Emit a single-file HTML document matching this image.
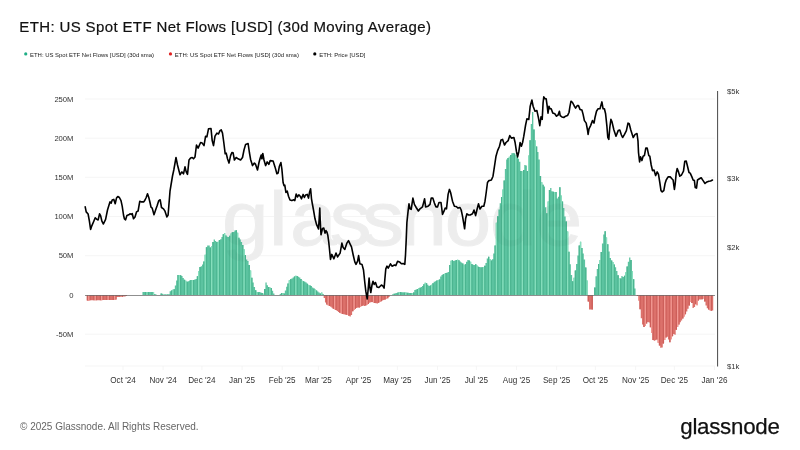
<!DOCTYPE html>
<html><head><meta charset="utf-8"><title>ETH: US Spot ETF Net Flows [USD] (30d Moving Average)</title>
<style>
html,body{margin:0;padding:0;background:#fff;}
body{width:800px;height:450px;position:relative;overflow:hidden;font-family:"Liberation Sans",sans-serif;}
.title{position:absolute;left:19.3px;top:17.1px;font-size:15px;line-height:20px;color:#111;white-space:nowrap;letter-spacing:0.37px;-webkit-text-stroke:0.2px #111;}
.copy{position:absolute;left:20px;top:420px;font-size:10px;line-height:14px;color:#666;white-space:nowrap;}
.logo{position:absolute;left:680.3px;top:413.6px;font-size:22.3px;line-height:26px;color:#111;white-space:nowrap;letter-spacing:-0.27px;-webkit-text-stroke:0.25px #111;}
</style></head><body>
<div class="title">ETH: US Spot ETF Net Flows [USD] (30d Moving Average)</div>
<svg width="800" height="450" viewBox="0 0 800 450" style="position:absolute;left:0;top:0">
<g stroke="#f2f2f2" stroke-width="0.8" fill="none">
<line x1="85" y1="99" x2="715" y2="99"/>
<line x1="85" y1="138.2" x2="715" y2="138.2"/>
<line x1="85" y1="177.3" x2="715" y2="177.3"/>
<line x1="85" y1="216.5" x2="715" y2="216.5"/>
<line x1="85" y1="255.7" x2="715" y2="255.7"/>
<line x1="85" y1="334.2" x2="715" y2="334.2"/>
<line x1="85" y1="366" x2="715" y2="366"/>
<line x1="123" y1="366" x2="123" y2="370"/>
<line x1="163.1" y1="366" x2="163.1" y2="370"/>
<line x1="201.9" y1="366" x2="201.9" y2="370"/>
<line x1="242.1" y1="366" x2="242.1" y2="370"/>
<line x1="282.2" y1="366" x2="282.2" y2="370"/>
<line x1="318.4" y1="366" x2="318.4" y2="370"/>
<line x1="358.6" y1="366" x2="358.6" y2="370"/>
<line x1="397.4" y1="366" x2="397.4" y2="370"/>
<line x1="437.5" y1="366" x2="437.5" y2="370"/>
<line x1="476.4" y1="366" x2="476.4" y2="370"/>
<line x1="516.5" y1="366" x2="516.5" y2="370"/>
<line x1="556.6" y1="366" x2="556.6" y2="370"/>
<line x1="595.4" y1="366" x2="595.4" y2="370"/>
<line x1="635.6" y1="366" x2="635.6" y2="370"/>
<line x1="674.4" y1="366" x2="674.4" y2="370"/>
<line x1="714.5" y1="366" x2="714.5" y2="370"/>
</g>
<text transform="scale(1.1,1)" x="201.8 244.5 263.6 299.7 329.3 364.1 404.3 445.4 487.0" y="245" font-family="Liberation Sans, sans-serif" font-size="76" fill="#f4f4f4" stroke="#f4f4f4" stroke-width="1">glassnode</text>
<path d="M142.45 295.0V292.0h1.294V295.0zM143.74 295.0V292.0h1.294V295.0zM145.04 295.0V292.0h1.294V295.0zM146.33 295.0V292.0h1.294V295.0zM147.63 295.0V292.0h1.294V295.0zM148.92 295.0V292.0h1.294V295.0zM150.22 295.0V292.0h1.294V295.0zM151.51 295.0V292.0h1.294V295.0zM152.80 295.0V292.0h1.294V295.0zM154.10 295.0V294.3h1.294V295.0zM155.39 295.0V294.6h1.294V295.0zM160.57 295.0V293.6h1.294V295.0zM161.86 295.0V293.8h1.294V295.0zM163.16 295.0V294.4h1.294V295.0zM164.45 295.0V294.6h1.294V295.0zM165.75 295.0V294.6h1.294V295.0zM167.04 295.0V294.6h1.294V295.0zM168.34 295.0V294.2h1.294V295.0zM169.63 295.0V291.3h1.294V295.0zM170.92 295.0V290.6h1.294V295.0zM172.22 295.0V289.8h1.294V295.0zM173.51 295.0V289.2h1.294V295.0zM174.81 295.0V285.5h1.294V295.0zM176.10 295.0V280.4h1.294V295.0zM177.40 295.0V275.0h1.294V295.0zM178.69 295.0V275.0h1.294V295.0zM179.98 295.0V275.3h1.294V295.0zM181.28 295.0V276.0h1.294V295.0zM182.57 295.0V278.1h1.294V295.0zM183.87 295.0V279.7h1.294V295.0zM185.16 295.0V280.7h1.294V295.0zM186.46 295.0V281.7h1.294V295.0zM187.75 295.0V281.3h1.294V295.0zM189.04 295.0V280.4h1.294V295.0zM190.34 295.0V280.1h1.294V295.0zM191.63 295.0V280.0h1.294V295.0zM192.93 295.0V280.0h1.294V295.0zM194.22 295.0V279.6h1.294V295.0zM195.52 295.0V279.0h1.294V295.0zM196.81 295.0V276.2h1.294V295.0zM198.10 295.0V271.2h1.294V295.0zM199.40 295.0V267.1h1.294V295.0zM200.69 295.0V266.3h1.294V295.0zM201.99 295.0V264.5h1.294V295.0zM203.28 295.0V261.6h1.294V295.0zM204.58 295.0V254.7h1.294V295.0zM205.87 295.0V247.3h1.294V295.0zM207.16 295.0V245.5h1.294V295.0zM208.46 295.0V245.5h1.294V295.0zM209.75 295.0V247.4h1.294V295.0zM211.05 295.0V246.3h1.294V295.0zM212.34 295.0V242.0h1.294V295.0zM213.64 295.0V239.6h1.294V295.0zM214.93 295.0V241.1h1.294V295.0zM216.22 295.0V242.0h1.294V295.0zM217.52 295.0V241.7h1.294V295.0zM218.81 295.0V240.0h1.294V295.0zM220.11 295.0V239.3h1.294V295.0zM221.40 295.0V236.9h1.294V295.0zM222.70 295.0V234.2h1.294V295.0zM223.99 295.0V233.2h1.294V295.0zM225.28 295.0V235.5h1.294V295.0zM226.58 295.0V236.8h1.294V295.0zM227.87 295.0V237.0h1.294V295.0zM229.17 295.0V235.7h1.294V295.0zM230.46 295.0V233.6h1.294V295.0zM231.76 295.0V232.3h1.294V295.0zM233.05 295.0V232.0h1.294V295.0zM234.34 295.0V230.6h1.294V295.0zM235.64 295.0V230.3h1.294V295.0zM236.93 295.0V232.8h1.294V295.0zM238.23 295.0V237.7h1.294V295.0zM239.52 295.0V239.5h1.294V295.0zM240.82 295.0V241.9h1.294V295.0zM242.11 295.0V244.9h1.294V295.0zM243.40 295.0V249.3h1.294V295.0zM244.70 295.0V254.9h1.294V295.0zM245.99 295.0V259.4h1.294V295.0zM247.29 295.0V260.9h1.294V295.0zM248.58 295.0V265.0h1.294V295.0zM249.88 295.0V270.5h1.294V295.0zM251.17 295.0V277.8h1.294V295.0zM252.46 295.0V282.6h1.294V295.0zM253.76 295.0V286.9h1.294V295.0zM255.05 295.0V290.3h1.294V295.0zM256.35 295.0V291.9h1.294V295.0zM257.64 295.0V292.3h1.294V295.0zM258.94 295.0V292.1h1.294V295.0zM260.23 295.0V292.4h1.294V295.0zM261.52 295.0V293.1h1.294V295.0zM262.82 295.0V293.8h1.294V295.0zM264.11 295.0V288.9h1.294V295.0zM265.41 295.0V282.5h1.294V295.0zM266.70 295.0V285.3h1.294V295.0zM268.00 295.0V287.0h1.294V295.0zM269.29 295.0V287.5h1.294V295.0zM270.58 295.0V288.1h1.294V295.0zM271.88 295.0V290.8h1.294V295.0zM273.17 295.0V293.4h1.294V295.0zM279.64 295.0V293.9h1.294V295.0zM280.94 295.0V293.0h1.294V295.0zM282.23 295.0V293.0h1.294V295.0zM283.53 295.0V293.5h1.294V295.0zM284.82 295.0V290.5h1.294V295.0zM286.12 295.0V286.7h1.294V295.0zM287.41 295.0V283.4h1.294V295.0zM288.71 295.0V280.3h1.294V295.0zM290.00 295.0V279.2h1.294V295.0zM291.29 295.0V278.4h1.294V295.0zM292.59 295.0V277.5h1.294V295.0zM293.88 295.0V276.6h1.294V295.0zM295.18 295.0V275.8h1.294V295.0zM296.47 295.0V276.0h1.294V295.0zM297.77 295.0V276.7h1.294V295.0zM299.06 295.0V277.5h1.294V295.0zM300.35 295.0V279.1h1.294V295.0zM301.65 295.0V280.8h1.294V295.0zM302.94 295.0V281.2h1.294V295.0zM304.24 295.0V281.8h1.294V295.0zM305.53 295.0V282.6h1.294V295.0zM306.83 295.0V283.7h1.294V295.0zM308.12 295.0V285.0h1.294V295.0zM309.41 295.0V285.6h1.294V295.0zM310.71 295.0V286.1h1.294V295.0zM312.00 295.0V287.4h1.294V295.0zM313.30 295.0V288.5h1.294V295.0zM314.59 295.0V289.4h1.294V295.0zM315.89 295.0V290.4h1.294V295.0zM317.18 295.0V291.5h1.294V295.0zM318.47 295.0V292.6h1.294V295.0zM319.77 295.0V293.4h1.294V295.0zM321.06 295.0V292.4h1.294V295.0zM322.36 295.0V294.3h1.294V295.0zM392.25 295.0V294.2h1.294V295.0zM393.54 295.0V293.7h1.294V295.0zM394.84 295.0V293.3h1.294V295.0zM396.13 295.0V292.9h1.294V295.0zM397.43 295.0V292.6h1.294V295.0zM398.72 295.0V292.2h1.294V295.0zM400.01 295.0V292.1h1.294V295.0zM401.31 295.0V292.2h1.294V295.0zM402.60 295.0V292.3h1.294V295.0zM403.90 295.0V292.5h1.294V295.0zM405.19 295.0V292.6h1.294V295.0zM406.49 295.0V292.7h1.294V295.0zM407.78 295.0V292.8h1.294V295.0zM409.07 295.0V293.0h1.294V295.0zM410.37 295.0V293.1h1.294V295.0zM411.66 295.0V293.2h1.294V295.0zM412.96 295.0V292.6h1.294V295.0zM414.25 295.0V289.9h1.294V295.0zM415.55 295.0V289.4h1.294V295.0zM416.84 295.0V288.9h1.294V295.0zM418.14 295.0V288.3h1.294V295.0zM419.43 295.0V287.7h1.294V295.0zM420.72 295.0V287.0h1.294V295.0zM422.02 295.0V285.9h1.294V295.0zM423.31 295.0V284.3h1.294V295.0zM424.61 295.0V282.8h1.294V295.0zM425.90 295.0V283.2h1.294V295.0zM427.20 295.0V284.8h1.294V295.0zM428.49 295.0V285.9h1.294V295.0zM429.78 295.0V285.5h1.294V295.0zM431.08 295.0V284.8h1.294V295.0zM432.37 295.0V283.2h1.294V295.0zM433.67 295.0V281.8h1.294V295.0zM434.96 295.0V281.2h1.294V295.0zM436.26 295.0V280.6h1.294V295.0zM437.55 295.0V280.3h1.294V295.0zM438.84 295.0V279.6h1.294V295.0zM440.14 295.0V276.5h1.294V295.0zM441.43 295.0V274.9h1.294V295.0zM442.73 295.0V274.3h1.294V295.0zM444.02 295.0V273.7h1.294V295.0zM445.32 295.0V273.1h1.294V295.0zM446.61 295.0V272.5h1.294V295.0zM447.90 295.0V272.1h1.294V295.0zM449.20 295.0V265.0h1.294V295.0zM450.49 295.0V260.7h1.294V295.0zM451.79 295.0V260.3h1.294V295.0zM453.08 295.0V261.1h1.294V295.0zM454.38 295.0V260.5h1.294V295.0zM455.67 295.0V260.0h1.294V295.0zM456.96 295.0V259.8h1.294V295.0zM458.26 295.0V260.3h1.294V295.0zM459.55 295.0V261.5h1.294V295.0zM460.85 295.0V262.6h1.294V295.0zM462.14 295.0V263.6h1.294V295.0zM463.44 295.0V265.1h1.294V295.0zM464.73 295.0V264.3h1.294V295.0zM466.02 295.0V261.8h1.294V295.0zM467.32 295.0V260.0h1.294V295.0zM468.61 295.0V260.4h1.294V295.0zM469.91 295.0V261.8h1.294V295.0zM471.20 295.0V264.1h1.294V295.0zM472.50 295.0V264.8h1.294V295.0zM473.79 295.0V265.0h1.294V295.0zM475.08 295.0V264.2h1.294V295.0zM476.38 295.0V265.4h1.294V295.0zM477.67 295.0V266.8h1.294V295.0zM478.97 295.0V267.1h1.294V295.0zM480.26 295.0V267.3h1.294V295.0zM481.56 295.0V267.3h1.294V295.0zM482.85 295.0V267.1h1.294V295.0zM484.14 295.0V265.8h1.294V295.0zM485.44 295.0V263.1h1.294V295.0zM486.73 295.0V258.5h1.294V295.0zM488.03 295.0V256.7h1.294V295.0zM489.32 295.0V258.9h1.294V295.0zM490.62 295.0V260.5h1.294V295.0zM491.91 295.0V259.2h1.294V295.0zM493.20 295.0V253.5h1.294V295.0zM494.50 295.0V245.4h1.294V295.0zM495.79 295.0V222.8h1.294V295.0zM497.09 295.0V216.2h1.294V295.0zM498.38 295.0V209.6h1.294V295.0zM499.68 295.0V203.2h1.294V295.0zM500.97 295.0V196.9h1.294V295.0zM502.26 295.0V189.6h1.294V295.0zM503.56 295.0V180.6h1.294V295.0zM504.85 295.0V169.0h1.294V295.0zM506.15 295.0V159.5h1.294V295.0zM507.44 295.0V158.1h1.294V295.0zM508.74 295.0V156.7h1.294V295.0zM510.03 295.0V155.1h1.294V295.0zM511.32 295.0V153.2h1.294V295.0zM512.62 295.0V152.9h1.294V295.0zM513.91 295.0V153.5h1.294V295.0zM515.21 295.0V155.0h1.294V295.0zM516.50 295.0V157.0h1.294V295.0zM517.80 295.0V158.7h1.294V295.0zM519.09 295.0V161.7h1.294V295.0zM520.38 295.0V170.9h1.294V295.0zM521.68 295.0V171.4h1.294V295.0zM522.97 295.0V170.1h1.294V295.0zM524.27 295.0V165.0h1.294V295.0zM525.56 295.0V165.5h1.294V295.0zM526.86 295.0V171.0h1.294V295.0zM528.15 295.0V155.4h1.294V295.0zM529.44 295.0V140.2h1.294V295.0zM530.74 295.0V124.1h1.294V295.0zM532.03 295.0V112.1h1.294V295.0zM533.33 295.0V129.4h1.294V295.0zM534.62 295.0V140.5h1.294V295.0zM535.92 295.0V146.5h1.294V295.0zM537.21 295.0V152.0h1.294V295.0zM538.50 295.0V159.4h1.294V295.0zM539.80 295.0V176.0h1.294V295.0zM541.09 295.0V182.3h1.294V295.0zM542.39 295.0V184.7h1.294V295.0zM543.68 295.0V186.5h1.294V295.0zM544.98 295.0V207.3h1.294V295.0zM546.27 295.0V213.2h1.294V295.0zM547.57 295.0V201.5h1.294V295.0zM548.86 295.0V190.1h1.294V295.0zM550.15 295.0V187.9h1.294V295.0zM551.45 295.0V191.3h1.294V295.0zM552.74 295.0V191.8h1.294V295.0zM554.04 295.0V192.0h1.294V295.0zM555.33 295.0V192.0h1.294V295.0zM556.63 295.0V198.6h1.294V295.0zM557.92 295.0V196.8h1.294V295.0zM559.21 295.0V187.2h1.294V295.0zM560.51 295.0V195.6h1.294V295.0zM561.80 295.0V201.6h1.294V295.0zM563.10 295.0V207.9h1.294V295.0zM564.39 295.0V216.4h1.294V295.0zM565.69 295.0V221.5h1.294V295.0zM566.98 295.0V231.6h1.294V295.0zM568.27 295.0V251.7h1.294V295.0zM569.57 295.0V264.3h1.294V295.0zM570.86 295.0V275.0h1.294V295.0zM572.16 295.0V281.3h1.294V295.0zM573.45 295.0V277.7h1.294V295.0zM574.75 295.0V270.5h1.294V295.0zM576.04 295.0V264.1h1.294V295.0zM577.33 295.0V255.5h1.294V295.0zM578.63 295.0V245.4h1.294V295.0zM579.92 295.0V241.8h1.294V295.0zM581.22 295.0V248.0h1.294V295.0zM582.51 295.0V253.5h1.294V295.0zM583.81 295.0V259.6h1.294V295.0zM585.10 295.0V267.5h1.294V295.0zM586.39 295.0V280.6h1.294V295.0zM594.16 295.0V287.4h1.294V295.0zM595.45 295.0V276.3h1.294V295.0zM596.75 295.0V269.1h1.294V295.0zM598.04 295.0V263.9h1.294V295.0zM599.34 295.0V260.0h1.294V295.0zM600.63 295.0V252.0h1.294V295.0zM601.93 295.0V243.4h1.294V295.0zM603.22 295.0V234.6h1.294V295.0zM604.51 295.0V231.3h1.294V295.0zM605.81 295.0V237.4h1.294V295.0zM607.10 295.0V244.3h1.294V295.0zM608.40 295.0V251.5h1.294V295.0zM609.69 295.0V257.9h1.294V295.0zM610.99 295.0V260.5h1.294V295.0zM612.28 295.0V261.9h1.294V295.0zM613.57 295.0V264.4h1.294V295.0zM614.87 295.0V267.3h1.294V295.0zM616.16 295.0V270.9h1.294V295.0zM617.46 295.0V275.3h1.294V295.0zM618.75 295.0V278.5h1.294V295.0zM620.05 295.0V278.6h1.294V295.0zM621.34 295.0V276.0h1.294V295.0zM622.63 295.0V277.1h1.294V295.0zM623.93 295.0V275.8h1.294V295.0zM625.22 295.0V272.3h1.294V295.0zM626.52 295.0V266.5h1.294V295.0zM627.81 295.0V261.7h1.294V295.0zM629.11 295.0V257.4h1.294V295.0zM630.40 295.0V260.1h1.294V295.0zM631.69 295.0V271.1h1.294V295.0zM632.99 295.0V279.3h1.294V295.0zM634.28 295.0V288.4h1.294V295.0z" fill="#5cc3a0"/>
<path d="M145.04 295.0V292.0h1.294V295.0zM147.63 295.0V292.0h1.294V295.0zM151.51 295.0V292.0h1.294V295.0zM154.10 295.0V294.3h1.294V295.0zM160.57 295.0V293.6h1.294V295.0zM164.45 295.0V294.6h1.294V295.0zM167.04 295.0V294.6h1.294V295.0zM170.92 295.0V290.6h1.294V295.0zM173.51 295.0V289.2h1.294V295.0zM177.40 295.0V275.0h1.294V295.0zM179.98 295.0V275.3h1.294V295.0zM183.87 295.0V279.7h1.294V295.0zM186.46 295.0V281.7h1.294V295.0zM190.34 295.0V280.1h1.294V295.0zM192.93 295.0V280.0h1.294V295.0zM196.81 295.0V276.2h1.294V295.0zM199.40 295.0V267.1h1.294V295.0zM203.28 295.0V261.6h1.294V295.0zM205.87 295.0V247.3h1.294V295.0zM209.75 295.0V247.4h1.294V295.0zM212.34 295.0V242.0h1.294V295.0zM216.22 295.0V242.0h1.294V295.0zM218.81 295.0V240.0h1.294V295.0zM222.70 295.0V234.2h1.294V295.0zM225.28 295.0V235.5h1.294V295.0zM229.17 295.0V235.7h1.294V295.0zM231.76 295.0V232.3h1.294V295.0zM235.64 295.0V230.3h1.294V295.0zM238.23 295.0V237.7h1.294V295.0zM242.11 295.0V244.9h1.294V295.0zM244.70 295.0V254.9h1.294V295.0zM248.58 295.0V265.0h1.294V295.0zM251.17 295.0V277.8h1.294V295.0zM255.05 295.0V290.3h1.294V295.0zM257.64 295.0V292.3h1.294V295.0zM261.52 295.0V293.1h1.294V295.0zM264.11 295.0V288.9h1.294V295.0zM268.00 295.0V287.0h1.294V295.0zM270.58 295.0V288.1h1.294V295.0zM280.94 295.0V293.0h1.294V295.0zM283.53 295.0V293.5h1.294V295.0zM287.41 295.0V283.4h1.294V295.0zM290.00 295.0V279.2h1.294V295.0zM293.88 295.0V276.6h1.294V295.0zM296.47 295.0V276.0h1.294V295.0zM300.35 295.0V279.1h1.294V295.0zM302.94 295.0V281.2h1.294V295.0zM306.83 295.0V283.7h1.294V295.0zM309.41 295.0V285.6h1.294V295.0zM313.30 295.0V288.5h1.294V295.0zM315.89 295.0V290.4h1.294V295.0zM319.77 295.0V293.4h1.294V295.0zM322.36 295.0V294.3h1.294V295.0zM393.54 295.0V293.7h1.294V295.0zM397.43 295.0V292.6h1.294V295.0zM400.01 295.0V292.1h1.294V295.0zM403.90 295.0V292.5h1.294V295.0zM406.49 295.0V292.7h1.294V295.0zM410.37 295.0V293.1h1.294V295.0zM412.96 295.0V292.6h1.294V295.0zM416.84 295.0V288.9h1.294V295.0zM419.43 295.0V287.7h1.294V295.0zM423.31 295.0V284.3h1.294V295.0zM425.90 295.0V283.2h1.294V295.0zM429.78 295.0V285.5h1.294V295.0zM432.37 295.0V283.2h1.294V295.0zM436.26 295.0V280.6h1.294V295.0zM438.84 295.0V279.6h1.294V295.0zM442.73 295.0V274.3h1.294V295.0zM445.32 295.0V273.1h1.294V295.0zM449.20 295.0V265.0h1.294V295.0zM451.79 295.0V260.3h1.294V295.0zM455.67 295.0V260.0h1.294V295.0zM458.26 295.0V260.3h1.294V295.0zM462.14 295.0V263.6h1.294V295.0zM464.73 295.0V264.3h1.294V295.0zM468.61 295.0V260.4h1.294V295.0zM471.20 295.0V264.1h1.294V295.0zM475.08 295.0V264.2h1.294V295.0zM477.67 295.0V266.8h1.294V295.0zM481.56 295.0V267.3h1.294V295.0zM484.14 295.0V265.8h1.294V295.0zM488.03 295.0V256.7h1.294V295.0zM490.62 295.0V260.5h1.294V295.0zM494.50 295.0V245.4h1.294V295.0zM497.09 295.0V216.2h1.294V295.0zM500.97 295.0V196.9h1.294V295.0zM503.56 295.0V180.6h1.294V295.0zM507.44 295.0V158.1h1.294V295.0zM510.03 295.0V155.1h1.294V295.0zM513.91 295.0V153.5h1.294V295.0zM516.50 295.0V157.0h1.294V295.0zM520.38 295.0V170.9h1.294V295.0zM522.97 295.0V170.1h1.294V295.0zM526.86 295.0V171.0h1.294V295.0zM529.44 295.0V140.2h1.294V295.0zM533.33 295.0V129.4h1.294V295.0zM535.92 295.0V146.5h1.294V295.0zM539.80 295.0V176.0h1.294V295.0zM542.39 295.0V184.7h1.294V295.0zM546.27 295.0V213.2h1.294V295.0zM548.86 295.0V190.1h1.294V295.0zM552.74 295.0V191.8h1.294V295.0zM555.33 295.0V192.0h1.294V295.0zM559.21 295.0V187.2h1.294V295.0zM561.80 295.0V201.6h1.294V295.0zM565.69 295.0V221.5h1.294V295.0zM568.27 295.0V251.7h1.294V295.0zM572.16 295.0V281.3h1.294V295.0zM574.75 295.0V270.5h1.294V295.0zM578.63 295.0V245.4h1.294V295.0zM581.22 295.0V248.0h1.294V295.0zM585.10 295.0V267.5h1.294V295.0zM594.16 295.0V287.4h1.294V295.0zM598.04 295.0V263.9h1.294V295.0zM600.63 295.0V252.0h1.294V295.0zM604.51 295.0V231.3h1.294V295.0zM607.10 295.0V244.3h1.294V295.0zM610.99 295.0V260.5h1.294V295.0zM613.57 295.0V264.4h1.294V295.0zM617.46 295.0V275.3h1.294V295.0zM620.05 295.0V278.6h1.294V295.0zM623.93 295.0V275.8h1.294V295.0zM626.52 295.0V266.5h1.294V295.0zM630.40 295.0V260.1h1.294V295.0zM632.99 295.0V279.3h1.294V295.0z" fill="#4bb590"/>
<path d="M146.33 295.0V292.0h1.294V295.0zM152.80 295.0V292.0h1.294V295.0zM165.75 295.0V294.6h1.294V295.0zM172.22 295.0V289.8h1.294V295.0zM178.69 295.0V275.0h1.294V295.0zM185.16 295.0V280.7h1.294V295.0zM191.63 295.0V280.0h1.294V295.0zM198.10 295.0V271.2h1.294V295.0zM204.58 295.0V254.7h1.294V295.0zM211.05 295.0V246.3h1.294V295.0zM217.52 295.0V241.7h1.294V295.0zM223.99 295.0V233.2h1.294V295.0zM230.46 295.0V233.6h1.294V295.0zM236.93 295.0V232.8h1.294V295.0zM243.40 295.0V249.3h1.294V295.0zM249.88 295.0V270.5h1.294V295.0zM256.35 295.0V291.9h1.294V295.0zM262.82 295.0V293.8h1.294V295.0zM269.29 295.0V287.5h1.294V295.0zM282.23 295.0V293.0h1.294V295.0zM288.71 295.0V280.3h1.294V295.0zM295.18 295.0V275.8h1.294V295.0zM301.65 295.0V280.8h1.294V295.0zM308.12 295.0V285.0h1.294V295.0zM314.59 295.0V289.4h1.294V295.0zM321.06 295.0V292.4h1.294V295.0zM392.25 295.0V294.2h1.294V295.0zM398.72 295.0V292.2h1.294V295.0zM405.19 295.0V292.6h1.294V295.0zM411.66 295.0V293.2h1.294V295.0zM418.14 295.0V288.3h1.294V295.0zM424.61 295.0V282.8h1.294V295.0zM431.08 295.0V284.8h1.294V295.0zM437.55 295.0V280.3h1.294V295.0zM444.02 295.0V273.7h1.294V295.0zM450.49 295.0V260.7h1.294V295.0zM456.96 295.0V259.8h1.294V295.0zM463.44 295.0V265.1h1.294V295.0zM469.91 295.0V261.8h1.294V295.0zM476.38 295.0V265.4h1.294V295.0zM482.85 295.0V267.1h1.294V295.0zM489.32 295.0V258.9h1.294V295.0zM495.79 295.0V222.8h1.294V295.0zM502.26 295.0V189.6h1.294V295.0zM508.74 295.0V156.7h1.294V295.0zM515.21 295.0V155.0h1.294V295.0zM521.68 295.0V171.4h1.294V295.0zM528.15 295.0V155.4h1.294V295.0zM534.62 295.0V140.5h1.294V295.0zM541.09 295.0V182.3h1.294V295.0zM547.57 295.0V201.5h1.294V295.0zM554.04 295.0V192.0h1.294V295.0zM560.51 295.0V195.6h1.294V295.0zM566.98 295.0V231.6h1.294V295.0zM573.45 295.0V277.7h1.294V295.0zM579.92 295.0V241.8h1.294V295.0zM586.39 295.0V280.6h1.294V295.0zM599.34 295.0V260.0h1.294V295.0zM605.81 295.0V237.4h1.294V295.0zM612.28 295.0V261.9h1.294V295.0zM618.75 295.0V278.5h1.294V295.0zM625.22 295.0V272.3h1.294V295.0zM631.69 295.0V271.1h1.294V295.0z" fill="#88e0be"/>
<path d="M86.79 295.0V300.4h1.294V295.0zM88.09 295.0V300.7h1.294V295.0zM89.38 295.0V300.3h1.294V295.0zM90.68 295.0V300.3h1.294V295.0zM91.97 295.0V300.3h1.294V295.0zM93.27 295.0V300.3h1.294V295.0zM94.56 295.0V300.2h1.294V295.0zM95.85 295.0V300.2h1.294V295.0zM97.15 295.0V300.2h1.294V295.0zM98.44 295.0V300.2h1.294V295.0zM99.74 295.0V300.2h1.294V295.0zM101.03 295.0V300.2h1.294V295.0zM102.33 295.0V300.1h1.294V295.0zM103.62 295.0V300.1h1.294V295.0zM104.91 295.0V300.1h1.294V295.0zM106.21 295.0V300.1h1.294V295.0zM107.50 295.0V300.1h1.294V295.0zM108.80 295.0V300.1h1.294V295.0zM110.09 295.0V300.1h1.294V295.0zM111.39 295.0V300.0h1.294V295.0zM112.68 295.0V300.0h1.294V295.0zM113.97 295.0V300.0h1.294V295.0zM115.27 295.0V299.5h1.294V295.0zM116.56 295.0V297.0h1.294V295.0zM117.86 295.0V296.9h1.294V295.0zM119.15 295.0V296.8h1.294V295.0zM120.45 295.0V296.8h1.294V295.0zM121.74 295.0V296.7h1.294V295.0zM123.03 295.0V296.6h1.294V295.0zM124.33 295.0V296.5h1.294V295.0zM125.62 295.0V296.1h1.294V295.0zM323.65 295.0V298.0h1.294V295.0zM324.95 295.0V302.4h1.294V295.0zM326.24 295.0V304.6h1.294V295.0zM327.53 295.0V305.3h1.294V295.0zM328.83 295.0V306.0h1.294V295.0zM330.12 295.0V306.8h1.294V295.0zM331.42 295.0V307.8h1.294V295.0zM332.71 295.0V308.7h1.294V295.0zM334.01 295.0V309.3h1.294V295.0zM335.30 295.0V310.0h1.294V295.0zM336.59 295.0V310.9h1.294V295.0zM337.89 295.0V311.9h1.294V295.0zM339.18 295.0V312.7h1.294V295.0zM340.48 295.0V313.3h1.294V295.0zM341.77 295.0V313.9h1.294V295.0zM343.07 295.0V314.2h1.294V295.0zM344.36 295.0V314.5h1.294V295.0zM345.65 295.0V314.8h1.294V295.0zM346.95 295.0V315.1h1.294V295.0zM348.24 295.0V315.7h1.294V295.0zM349.54 295.0V316.5h1.294V295.0zM350.83 295.0V315.0h1.294V295.0zM352.13 295.0V311.2h1.294V295.0zM353.42 295.0V309.9h1.294V295.0zM354.71 295.0V308.8h1.294V295.0zM356.01 295.0V308.0h1.294V295.0zM357.30 295.0V307.5h1.294V295.0zM358.60 295.0V307.5h1.294V295.0zM359.89 295.0V307.1h1.294V295.0zM361.19 295.0V306.0h1.294V295.0zM362.48 295.0V305.6h1.294V295.0zM363.77 295.0V305.9h1.294V295.0zM365.07 295.0V305.6h1.294V295.0zM366.36 295.0V304.8h1.294V295.0zM367.66 295.0V303.9h1.294V295.0zM368.95 295.0V302.8h1.294V295.0zM370.25 295.0V302.3h1.294V295.0zM371.54 295.0V302.1h1.294V295.0zM372.83 295.0V302.4h1.294V295.0zM374.13 295.0V302.9h1.294V295.0zM375.42 295.0V303.2h1.294V295.0zM376.72 295.0V303.5h1.294V295.0zM378.01 295.0V302.8h1.294V295.0zM379.31 295.0V302.0h1.294V295.0zM380.60 295.0V301.3h1.294V295.0zM381.89 295.0V300.5h1.294V295.0zM383.19 295.0V300.0h1.294V295.0zM384.48 295.0V299.4h1.294V295.0zM385.78 295.0V298.9h1.294V295.0zM387.07 295.0V298.3h1.294V295.0zM388.37 295.0V297.0h1.294V295.0zM587.69 295.0V301.5h1.294V295.0zM588.98 295.0V309.5h1.294V295.0zM590.28 295.0V309.5h1.294V295.0zM591.57 295.0V309.5h1.294V295.0zM636.87 295.0V296.1h1.294V295.0zM638.17 295.0V300.4h1.294V295.0zM639.46 295.0V309.3h1.294V295.0zM640.75 295.0V318.2h1.294V295.0zM642.05 295.0V324.5h1.294V295.0zM643.34 295.0V327.0h1.294V295.0zM644.64 295.0V325.9h1.294V295.0zM645.93 295.0V323.6h1.294V295.0zM647.23 295.0V322.1h1.294V295.0zM648.52 295.0V322.5h1.294V295.0zM649.81 295.0V327.2h1.294V295.0zM651.11 295.0V332.9h1.294V295.0zM652.40 295.0V340.0h1.294V295.0zM653.70 295.0V340.7h1.294V295.0zM654.99 295.0V340.3h1.294V295.0zM656.29 295.0V339.5h1.294V295.0zM657.58 295.0V342.7h1.294V295.0zM658.87 295.0V345.5h1.294V295.0zM660.17 295.0V347.8h1.294V295.0zM661.46 295.0V347.6h1.294V295.0zM662.76 295.0V343.6h1.294V295.0zM664.05 295.0V339.9h1.294V295.0zM665.35 295.0V337.5h1.294V295.0zM666.64 295.0V336.7h1.294V295.0zM667.94 295.0V339.6h1.294V295.0zM669.23 295.0V342.3h1.294V295.0zM670.52 295.0V339.2h1.294V295.0zM671.82 295.0V336.2h1.294V295.0zM673.11 295.0V334.0h1.294V295.0zM674.41 295.0V334.8h1.294V295.0zM675.70 295.0V329.8h1.294V295.0zM677.00 295.0V326.8h1.294V295.0zM678.29 295.0V324.4h1.294V295.0zM679.58 295.0V322.2h1.294V295.0zM680.88 295.0V320.4h1.294V295.0zM682.17 295.0V318.5h1.294V295.0zM683.47 295.0V316.4h1.294V295.0zM684.76 295.0V314.2h1.294V295.0zM686.06 295.0V311.6h1.294V295.0zM687.35 295.0V308.8h1.294V295.0zM688.64 295.0V305.5h1.294V295.0zM689.94 295.0V301.9h1.294V295.0zM691.23 295.0V302.9h1.294V295.0zM692.53 295.0V307.9h1.294V295.0zM693.82 295.0V307.0h1.294V295.0zM695.12 295.0V304.3h1.294V295.0zM696.41 295.0V305.2h1.294V295.0zM697.70 295.0V300.6h1.294V295.0zM699.00 295.0V299.5h1.294V295.0zM700.29 295.0V299.5h1.294V295.0zM701.59 295.0V299.3h1.294V295.0zM702.88 295.0V298.6h1.294V295.0zM704.18 295.0V301.6h1.294V295.0zM705.47 295.0V305.6h1.294V295.0zM706.76 295.0V308.2h1.294V295.0zM708.06 295.0V309.5h1.294V295.0zM709.35 295.0V310.3h1.294V295.0zM710.65 295.0V310.7h1.294V295.0zM711.94 295.0V310.4h1.294V295.0z" fill="#dc716b"/>
<path d="M86.79 295.0V300.4h1.294V295.0zM89.38 295.0V300.3h1.294V295.0zM93.27 295.0V300.3h1.294V295.0zM95.85 295.0V300.2h1.294V295.0zM99.74 295.0V300.2h1.294V295.0zM102.33 295.0V300.1h1.294V295.0zM106.21 295.0V300.1h1.294V295.0zM108.80 295.0V300.1h1.294V295.0zM112.68 295.0V300.0h1.294V295.0zM115.27 295.0V299.5h1.294V295.0zM119.15 295.0V296.8h1.294V295.0zM121.74 295.0V296.7h1.294V295.0zM125.62 295.0V296.1h1.294V295.0zM326.24 295.0V304.6h1.294V295.0zM328.83 295.0V306.0h1.294V295.0zM332.71 295.0V308.7h1.294V295.0zM335.30 295.0V310.0h1.294V295.0zM339.18 295.0V312.7h1.294V295.0zM341.77 295.0V313.9h1.294V295.0zM345.65 295.0V314.8h1.294V295.0zM348.24 295.0V315.7h1.294V295.0zM352.13 295.0V311.2h1.294V295.0zM354.71 295.0V308.8h1.294V295.0zM358.60 295.0V307.5h1.294V295.0zM361.19 295.0V306.0h1.294V295.0zM365.07 295.0V305.6h1.294V295.0zM367.66 295.0V303.9h1.294V295.0zM371.54 295.0V302.1h1.294V295.0zM374.13 295.0V302.9h1.294V295.0zM378.01 295.0V302.8h1.294V295.0zM380.60 295.0V301.3h1.294V295.0zM384.48 295.0V299.4h1.294V295.0zM387.07 295.0V298.3h1.294V295.0zM587.69 295.0V301.5h1.294V295.0zM591.57 295.0V309.5h1.294V295.0zM636.87 295.0V296.1h1.294V295.0zM639.46 295.0V309.3h1.294V295.0zM643.34 295.0V327.0h1.294V295.0zM645.93 295.0V323.6h1.294V295.0zM649.81 295.0V327.2h1.294V295.0zM652.40 295.0V340.0h1.294V295.0zM656.29 295.0V339.5h1.294V295.0zM658.87 295.0V345.5h1.294V295.0zM662.76 295.0V343.6h1.294V295.0zM665.35 295.0V337.5h1.294V295.0zM669.23 295.0V342.3h1.294V295.0zM671.82 295.0V336.2h1.294V295.0zM675.70 295.0V329.8h1.294V295.0zM678.29 295.0V324.4h1.294V295.0zM682.17 295.0V318.5h1.294V295.0zM684.76 295.0V314.2h1.294V295.0zM688.64 295.0V305.5h1.294V295.0zM691.23 295.0V302.9h1.294V295.0zM695.12 295.0V304.3h1.294V295.0zM697.70 295.0V300.6h1.294V295.0zM701.59 295.0V299.3h1.294V295.0zM704.18 295.0V301.6h1.294V295.0zM708.06 295.0V309.5h1.294V295.0zM710.65 295.0V310.7h1.294V295.0z" fill="#cd5f5a"/>
<path d="M88.09 295.0V300.7h1.294V295.0zM94.56 295.0V300.2h1.294V295.0zM101.03 295.0V300.2h1.294V295.0zM107.50 295.0V300.1h1.294V295.0zM113.97 295.0V300.0h1.294V295.0zM120.45 295.0V296.8h1.294V295.0zM327.53 295.0V305.3h1.294V295.0zM334.01 295.0V309.3h1.294V295.0zM340.48 295.0V313.3h1.294V295.0zM346.95 295.0V315.1h1.294V295.0zM353.42 295.0V309.9h1.294V295.0zM359.89 295.0V307.1h1.294V295.0zM366.36 295.0V304.8h1.294V295.0zM372.83 295.0V302.4h1.294V295.0zM379.31 295.0V302.0h1.294V295.0zM385.78 295.0V298.9h1.294V295.0zM638.17 295.0V300.4h1.294V295.0zM644.64 295.0V325.9h1.294V295.0zM651.11 295.0V332.9h1.294V295.0zM657.58 295.0V342.7h1.294V295.0zM664.05 295.0V339.9h1.294V295.0zM670.52 295.0V339.2h1.294V295.0zM677.00 295.0V326.8h1.294V295.0zM683.47 295.0V316.4h1.294V295.0zM689.94 295.0V301.9h1.294V295.0zM696.41 295.0V305.2h1.294V295.0zM702.88 295.0V298.6h1.294V295.0zM709.35 295.0V310.3h1.294V295.0z" fill="#f39a94"/>
<text transform="scale(1.1,1)" x="201.8 244.5 263.6 299.7 329.3 364.1 404.3 445.4 487.0" y="245" font-family="Liberation Sans, sans-serif" font-size="76" fill="#000" stroke="#000" stroke-width="1" opacity="0.025">glassnode</text>
<line x1="85" y1="295.5" x2="715" y2="295.5" stroke="#6a6a6a" stroke-width="0.75"/>
<polyline points="85.2,206.9 86.2,211.9 88.1,214.0 89.4,221.2 90.6,229.4 91.9,225.6 93.8,221.2 95.2,217.8 96.9,219.4 98.1,220.0 99.6,213.8 100.6,215.6 101.9,221.2 103.4,224.0 105.6,219.4 107.5,210.0 109.4,203.8 110.0,201.9 111.2,203.1 112.2,200.0 113.8,199.4 115.2,203.8 116.5,198.1 117.8,196.5 119.4,197.5 121.0,200.6 122.2,206.2 123.5,215.0 124.4,218.8 125.6,219.8 126.9,215.6 128.8,214.8 130.0,213.8 131.2,214.4 132.2,213.5 133.5,218.8 135.0,216.9 136.5,211.9 138.1,211.0 139.8,201.2 141.2,201.9 143.8,201.9 145.0,200.0 146.2,197.5 147.5,193.8 148.8,197.5 150.0,202.5 151.0,207.2 152.2,208.1 154.0,214.8 155.6,210.0 157.2,205.6 158.8,200.6 160.2,199.8 161.5,207.5 163.5,208.8 165.0,211.2 166.9,216.9 168.1,215.0 169.0,203.8 170.0,191.2 171.0,185.0 172.5,176.0 173.8,170.0 176.0,157.5 177.5,165.0 180.0,174.8 181.9,171.9 183.5,173.8 185.0,166.9 186.2,171.9 187.5,174.4 189.0,160.0 190.6,158.1 192.2,157.5 193.5,158.8 195.0,156.9 196.5,145.0 198.1,148.1 200.6,142.5 202.2,143.1 204.0,145.6 205.6,136.2 206.9,136.9 208.5,128.8 211.0,128.5 212.2,140.6 213.5,145.6 215.0,136.2 216.9,133.1 218.5,134.0 220.0,130.6 221.2,129.8 222.5,133.1 223.8,142.5 225.2,153.8 226.2,153.1 227.5,158.8 229.0,163.1 230.6,155.6 231.9,152.5 233.1,152.8 234.4,160.0 236.2,157.5 238.1,158.8 240.6,160.0 242.5,157.5 244.0,150.0 245.6,144.4 248.1,143.5 249.4,152.5 250.6,159.4 252.5,165.6 254.4,163.1 255.6,164.4 257.5,170.0 259.0,162.5 260.0,158.8 261.2,155.0 261.9,158.8 262.8,153.5 264.0,160.0 265.6,165.6 267.2,161.9 268.8,164.4 270.2,160.6 273.1,161.0 275.0,166.9 276.9,173.8 278.1,173.1 279.4,166.2 280.9,162.5 281.9,169.4 283.1,182.5 284.0,185.6 284.8,185.2 285.9,192.5 287.2,191.0 288.5,196.2 290.0,200.0 291.9,200.6 293.5,199.8 294.8,200.6 296.2,194.0 297.5,196.9 298.8,194.8 300.2,196.2 301.5,198.8 303.1,194.4 304.4,197.5 305.6,195.0 307.2,194.4 308.5,198.1 309.6,191.9 310.6,188.8 311.5,198.8 312.2,203.0 313.5,210.0 315.0,218.8 316.5,224.4 318.5,229.0 319.1,220.0 319.8,208.1 320.2,220.0 321.0,234.8 322.5,228.5 323.8,228.1 325.0,233.1 326.0,230.6 326.9,231.9 327.8,235.2 328.8,242.5 329.8,252.5 330.5,259.4 331.8,254.4 333.9,258.8 336.0,253.1 337.6,256.9 340.1,253.1 341.9,243.1 343.1,247.5 344.8,249.4 346.9,243.1 348.5,240.6 350.0,243.8 351.5,246.9 353.2,255.0 354.8,261.9 356.0,264.4 357.6,261.2 358.6,255.6 359.9,263.8 362.0,264.4 363.5,270.0 364.8,282.5 365.8,291.2 367.2,299.0 368.2,288.8 369.1,278.1 369.9,287.5 370.8,292.5 372.0,285.0 373.0,281.2 374.2,284.4 375.5,282.5 377.0,286.9 378.9,287.5 381.4,285.0 383.0,286.2 384.1,288.1 384.9,278.8 385.8,268.8 387.0,266.2 388.2,268.1 390.5,263.8 392.0,266.2 394.5,265.0 395.8,265.6 397.6,261.2 399.5,261.9 401.4,263.8 403.2,263.5 404.8,264.4 405.5,255.0 406.2,240.0 406.9,222.5 408.1,211.2 409.0,203.8 410.0,208.8 411.2,209.4 412.9,198.1 414.4,204.4 416.2,207.5 418.4,211.0 420.0,208.8 422.5,206.9 424.6,198.8 425.6,206.9 428.1,206.2 430.0,204.4 431.2,198.1 432.8,198.1 434.4,203.1 436.0,206.9 437.5,206.9 439.0,202.5 441.0,202.5 442.5,214.4 444.0,211.2 445.2,208.1 446.5,208.8 448.1,194.4 449.4,189.4 450.6,192.5 452.5,201.2 454.4,206.2 456.2,206.5 458.1,208.1 460.0,207.5 461.2,210.0 462.5,216.2 463.8,223.8 464.6,228.8 465.6,218.8 466.9,213.8 468.5,215.0 470.2,215.0 472.5,213.8 474.0,210.0 475.6,215.6 476.9,210.0 478.5,203.8 480.0,209.0 481.9,206.2 483.8,206.2 485.0,201.2 486.2,192.5 487.5,182.5 488.8,180.6 489.5,180.6 491.4,180.0 493.0,176.2 494.5,166.2 496.0,156.2 497.6,150.6 499.5,146.2 501.0,140.0 502.6,139.4 504.5,145.0 506.0,142.5 508.2,140.6 509.8,135.6 511.4,138.1 513.9,137.5 515.1,142.5 516.4,151.2 517.6,156.9 518.9,151.2 520.1,142.5 521.4,146.2 522.6,142.5 523.8,136.2 525.6,125.0 526.9,118.8 528.8,119.4 530.2,106.2 531.9,100.0 533.1,106.2 535.0,111.2 536.9,110.6 538.5,118.1 539.8,125.6 541.0,116.9 542.2,119.4 543.1,102.5 543.8,96.9 545.0,98.8 546.2,98.8 547.2,106.2 548.0,113.1 549.0,106.2 550.0,108.8 551.2,108.8 552.8,113.1 554.8,113.8 556.5,116.2 558.1,115.0 559.4,111.2 560.2,115.6 561.9,116.9 563.8,117.5 565.6,116.2 567.5,115.6 569.0,112.5 570.0,106.2 571.0,101.2 572.5,102.5 574.4,106.2 575.6,108.1 577.2,105.6 578.5,105.6 580.0,109.4 581.9,110.0 583.1,114.4 584.4,120.6 586.2,123.1 587.5,130.0 588.1,134.4 589.0,128.8 590.6,125.6 592.5,120.6 594.0,123.1 595.0,117.5 596.5,111.2 598.1,108.8 600.0,108.8 601.9,101.9 603.1,108.8 604.4,108.8 605.6,113.8 606.9,126.2 607.8,137.5 608.8,139.4 609.8,127.5 610.9,119.4 612.0,121.9 613.9,130.0 616.0,136.2 618.2,130.6 619.8,130.0 621.4,135.0 622.6,137.5 624.5,134.4 626.4,130.6 628.0,123.1 629.2,123.8 630.8,130.0 633.2,137.5 635.1,134.4 637.0,133.5 638.0,141.2 638.5,152.5 639.6,161.9 640.6,156.9 641.9,160.6 643.1,156.2 644.4,155.6 645.8,148.1 647.2,148.1 648.8,155.6 649.8,156.2 651.2,165.0 652.5,170.6 654.0,170.0 655.6,175.6 657.2,171.9 658.5,174.4 659.8,182.5 661.0,190.6 662.2,191.9 663.8,190.6 665.0,183.8 666.2,180.0 668.1,176.9 670.2,176.9 671.9,178.8 673.1,180.0 674.4,189.4 675.2,183.8 676.2,173.1 677.2,168.5 678.5,171.9 679.8,176.2 681.5,175.0 683.5,171.2 684.8,161.2 686.2,161.0 687.5,166.2 689.0,172.5 690.2,173.1 691.9,176.9 693.1,180.0 694.4,180.6 695.2,187.5 696.5,188.1 697.5,180.0 699.4,178.8 701.2,177.8 703.1,180.6 705.0,183.5 706.9,181.9 708.8,181.2 710.6,181.0 712.5,180.0" fill="none" stroke="#000" stroke-width="1.6" stroke-linejoin="round" stroke-linecap="round"/>
<line x1="717.6" y1="91" x2="717.6" y2="366.5" stroke="#333" stroke-width="0.9"/>
<g font-family="Liberation Sans, sans-serif" font-size="7.65" fill="#333">
<text x="73.5" y="101.5" text-anchor="end">250M</text>
<text x="73.5" y="140.7" text-anchor="end">200M</text>
<text x="73.5" y="179.8" text-anchor="end">150M</text>
<text x="73.5" y="219.0" text-anchor="end">100M</text>
<text x="73.5" y="258.2" text-anchor="end">50M</text>
<text x="73.5" y="297.5" text-anchor="end">0</text>
<text x="73.5" y="336.7" text-anchor="end">-50M</text>
<text x="727" y="93.5">$5k</text>
<text x="727" y="180.5">$3k</text>
<text x="727" y="249.5">$2k</text>
<text x="727" y="368.5">$1k</text>
</g>
<g font-family="Liberation Sans, sans-serif" font-size="8.15" fill="#333" text-anchor="middle">
<text x="123" y="382.6">Oct '24</text>
<text x="163.1" y="382.6">Nov '24</text>
<text x="201.9" y="382.6">Dec '24</text>
<text x="242.1" y="382.6">Jan '25</text>
<text x="282.2" y="382.6">Feb '25</text>
<text x="318.4" y="382.6">Mar '25</text>
<text x="358.6" y="382.6">Apr '25</text>
<text x="397.4" y="382.6">May '25</text>
<text x="437.5" y="382.6">Jun '25</text>
<text x="476.4" y="382.6">Jul '25</text>
<text x="516.5" y="382.6">Aug '25</text>
<text x="556.6" y="382.6">Sep '25</text>
<text x="595.4" y="382.6">Oct '25</text>
<text x="635.6" y="382.6">Nov '25</text>
<text x="674.4" y="382.6">Dec '25</text>
<text x="714.5" y="382.6">Jan '26</text>
</g>
<g font-family="Liberation Sans, sans-serif" font-size="5.95" fill="#222">
<circle cx="25.75" cy="53.9" r="1.6" fill="#1fae86"/><text x="30" y="56.6">ETH: US Spot ETF Net Flows [USD] (30d sma)</text>
<circle cx="170.5" cy="53.9" r="1.6" fill="#e02020"/><text x="174.8" y="56.6">ETH: US Spot ETF Net Flows [USD] (30d sma)</text>
<circle cx="314.8" cy="53.9" r="1.6" fill="#000"/><text x="319.2" y="56.6">ETH: Price [USD]</text>
</g>
</svg>
<div class="copy">© 2025 Glassnode. All Rights Reserved.</div>
<div class="logo">glassnode</div>
</body></html>
